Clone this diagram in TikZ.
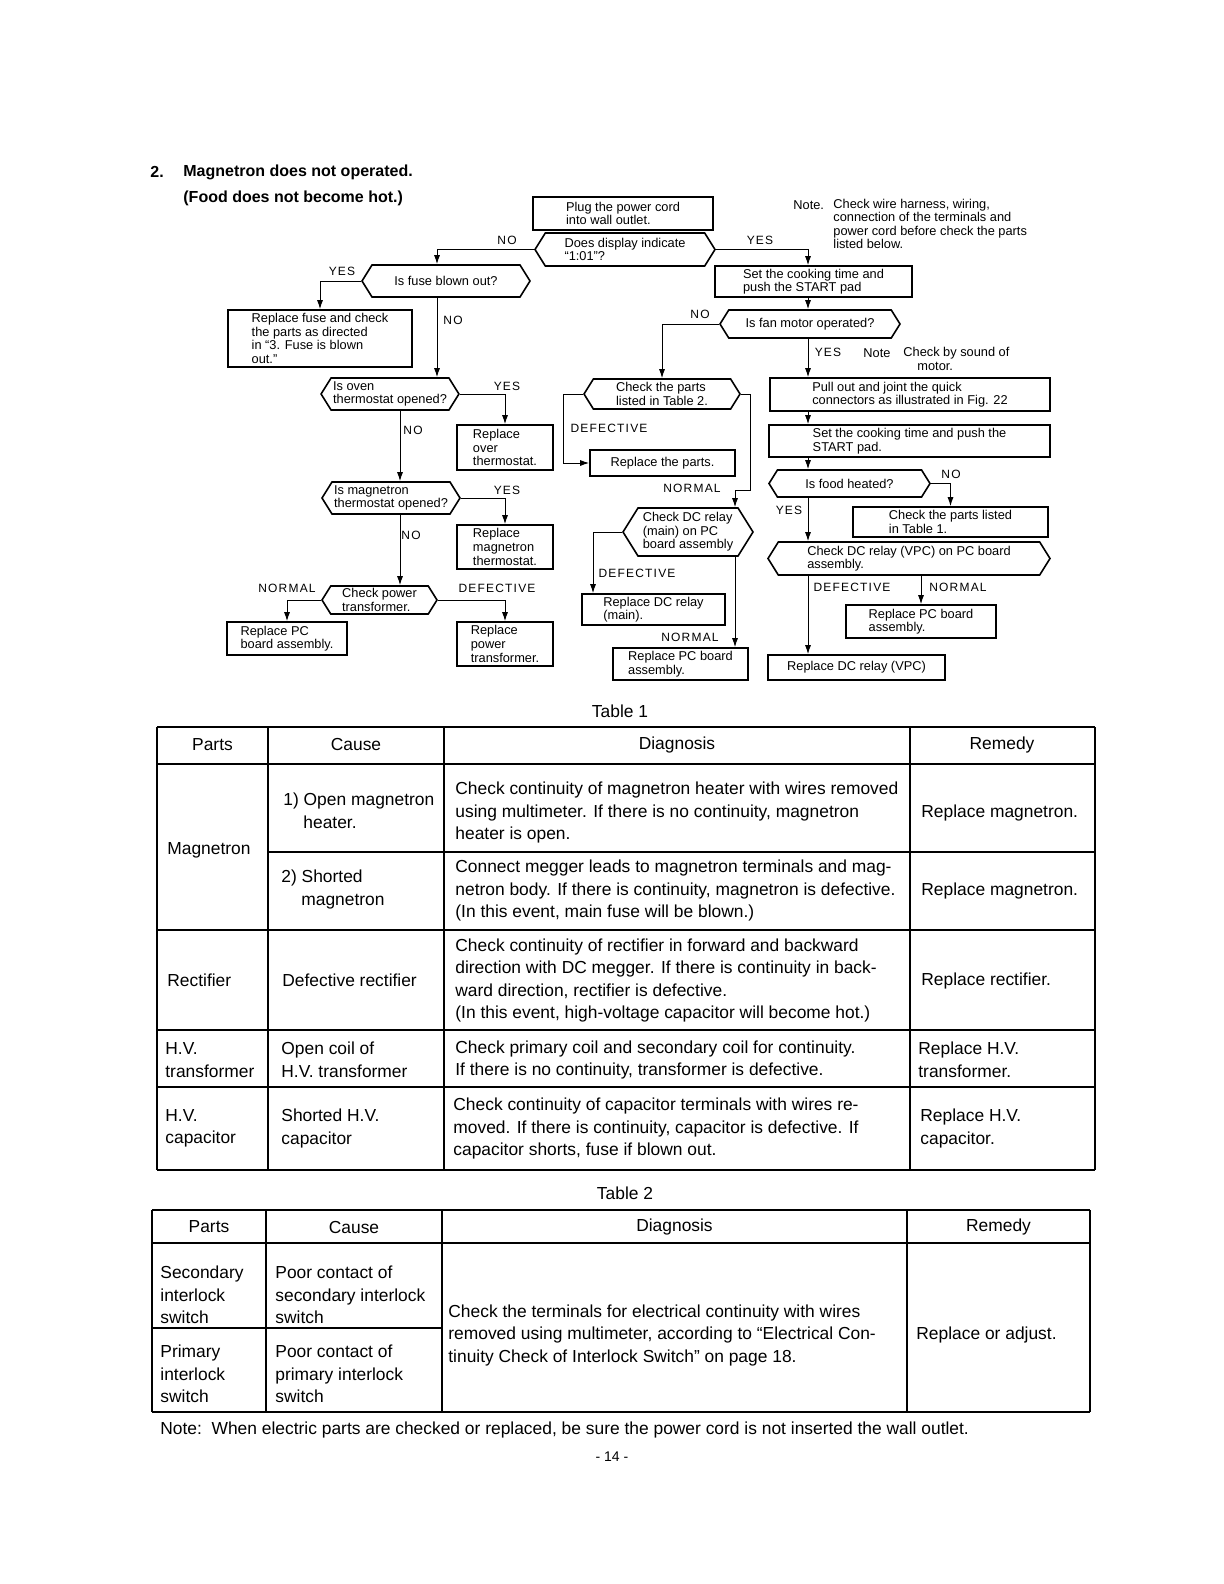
\documentclass[tikz,border=0pt]{standalone}
\usepackage{fontspec}
\setmainfont{Liberation Sans}
\newfontfamily\spacedfont[LetterSpace=10]{Liberation Sans}
\usetikzlibrary{shapes.symbols,arrows.meta}
\newcommand\flowfont{\fontsize{6.4}{6.8}\selectfont}
\newcommand\tabfont{\fontsize{8.7}{11.25}\selectfont}
\newcommand\markfont{\spacedfont\fontsize{6}{6}\selectfont}
\newcommand\headfont{\fontsize{8}{10}\selectfont\bfseries}
\tikzset{
    flow-box/.style = {draw, line width=0.8pt, rectangle, font=\flowfont, align=left, inner sep=1pt},
    flow-hex/.style = {draw, line width=0.8pt, signal, signal to=west and east, signal pointer angle=116, font=\flowfont, align=left, inner sep=1pt},
    flow-line/.style = {line width=0.5pt, -{Latex[length=4.5pt,width=3pt]}},
    flow-mark/.style = {font=\markfont, inner sep=0pt},
    tab-rule/.style = {line width=0.9pt},
    tab-sep/.style = {line width=0.6pt},
    tab-text/.style = {font=\tabfont, align=left, anchor=west, inner sep=0pt},
}

\begin{document}
\begin{tikzpicture}[x=0.5pt, y=-0.5pt]
\useasboundingbox (0,0) rectangle (1224,1584);

% heading
\node[anchor=west, font=\headfont, inner sep=0pt] (num) at (150,172) {2.};
\node[anchor=west, font=\headfont, inner sep=0pt] (head) at (183,172) {Magnetron does not operated.};
\node[anchor=west, font=\headfont, inner sep=0pt] (subhead) at (183,198) {(Food does not become hot.)};

% columns of the connectors
\coordinate (cF) at (437,0);
\coordinate (cM) at (400,0);
\coordinate (cR) at (808,0);
\coordinate (cD) at (735,0);
\coordinate (cL) at (593,0);
\coordinate (kR) at (750,490);

% flow chart
\node[flow-box, minimum width=90pt, minimum height=16.5pt] (plug) at (623,213.5) {Plug the power cord\\into wall outlet.};
\node[flow-hex, minimum width=90pt, minimum height=16.5pt] (disp) at (625,249.5) {Does display indicate\\``1:01''?};
\node[flow-hex, minimum width=84pt, minimum height=16pt] (fuse) at (446,281) {Is fuse blown out?};
\node[flow-box, minimum width=92pt, minimum height=28.5pt] (replfuse) at (320,338.5) {Replace fuse and check\\the parts as directed\\in ``3. Fuse is blown\\out.''};
\node[flow-box, minimum width=98.5pt, minimum height=15.5pt] (setA) at (813.5,281.5) {Set the cooking time and\\push the START pad};
\node[flow-hex, minimum width=90pt, minimum height=14pt] (fan) at (810,324) {Is fan motor operated?};

\node[flow-hex, minimum width=67pt, minimum height=16pt] (oven) at (390,394) {Is oven\\thermostat opened?};
\node[flow-box, minimum width=48pt, minimum height=22.5pt] (replover) at (505,447.5) {Replace\\over\\thermostat.};
\node[flow-hex, minimum width=69pt, minimum height=16pt] (mag) at (391,498) {Is magnetron\\thermostat opened?};
\node[flow-box, minimum width=48pt, minimum height=22pt] (replmag) at (505,547) {Replace\\magnetron\\thermostat.};
\node[flow-hex, minimum width=57.5pt, minimum height=14pt] (power) at (379.5,600) {Check power\\transformer.};
\node[flow-box, minimum width=60pt, minimum height=16.5pt] (replpc1) at (287,638.5) {Replace PC\\board assembly.};
\node[flow-box, minimum width=48pt, minimum height=22pt] (replpt) at (505,644) {Replace\\power\\transformer.};

\node[flow-hex, minimum width=78pt, minimum height=15pt] (tab2) at (662,394) {Check the parts\\listed in Table 2.};
\node[flow-box, minimum width=72.5pt, minimum height=13pt] (replparts) at (662.5,463) {Replace the parts.};
\node[flow-hex, minimum width=65pt, minimum height=24pt] (dcmain) at (688,532) {Check DC relay\\(main) on PC\\board assembly};
\node[flow-box, minimum width=71.5pt, minimum height=15.5pt] (repldcmain) at (653.5,609.5) {Replace DC relay\\(main).};
\node[flow-box, minimum width=67.5pt, minimum height=16pt] (replpc2) at (680.5,664) {Replace PC board\\assembly.};

\node[flow-box, minimum width=140pt, minimum height=16.5pt] (pull) at (910,394.5) {Pull out and joint the quick\\connectors as illustrated in Fig. 22};
\node[flow-box, minimum width=140.5pt, minimum height=16pt] (setB) at (909.5,441) {Set the cooking time and push the\\START pad.};
\node[flow-hex, minimum width=80.5pt, minimum height=13.5pt] (food) at (849.5,483.5) {Is food heated?};
\node[flow-box, minimum width=97.5pt, minimum height=15pt] (tab1) at (950.5,522) {Check the parts listed\\in Table 1.};
\node[flow-hex, minimum width=141pt, minimum height=16.5pt] (vpc) at (909,558.5) {Check DC relay (VPC) on PC board\\assembly.};
\node[flow-box, minimum width=75pt, minimum height=16.5pt] (replpc3) at (921,621.5) {Replace PC board\\assembly.};
\node[flow-box, minimum width=88.5pt, minimum height=12.5pt] (repldcvpc) at (856.5,667.5) {Replace DC relay (VPC)};

% notes
\node[anchor=west, font=\flowfont, inner sep=0pt] (notea) at (793,205) {Note.};
\node[anchor=west, font=\flowfont, align=left, inner sep=0pt] (noteatext) at (833,224) {Check wire harness, wiring,\\connection of the terminals and\\power cord before check the parts\\listed below.};
\node[anchor=west, font=\flowfont, inner sep=0pt] (noteb) at (863,353) {Note};
\node[anchor=west, font=\flowfont, align=left, inner sep=0pt] (notebtext) at (903,359) {Check by sound of\\\hspace*{7pt}motor.};

% connectors
\draw[flow-line] (disp.west) -| (fuse.north -| cF);
\draw[flow-line] (disp.east) -| (setA.north -| cR);
\draw[flow-line] (setA.south -| cR) -- (fan.north -| cR);
\draw[flow-line] (fan.west) -| (tab2.north);
\draw[flow-line] (fan.south -| cR) -- (pull.north -| cR);
\draw[flow-line] (pull.south -| cR) -- (setB.north -| cR);
\draw[flow-line] (setB.south -| cR) -- (food.north -| cR);
\draw[flow-line] (food.east) -| (tab1.north);
\draw[flow-line] (food.south -| cR) -- (vpc.north -| cR);
\draw[flow-line] (vpc.south -| cR) -- (repldcvpc.north -| cR);
\draw[flow-line] (vpc.south -| replpc3.north) -- (replpc3.north);

\draw[flow-line] (fuse.west) -| (replfuse.north);
\draw[flow-line] (fuse.south -| cF) -- (oven.north -| cF);
\draw[flow-line] (oven.east) -| (replover.north);
\draw[flow-line] (oven.south -| cM) -- (mag.north -| cM);
\draw[flow-line] (mag.east) -| (replmag.north);
\draw[flow-line] (mag.south -| cM) -- (power.north -| cM);
\draw[flow-line] (power.west) -| (replpc1.north);
\draw[flow-line] (power.east) -| (replpt.north);

\draw[flow-line] (tab2.west) -- ++(-20,0) |- (replparts.west);
\draw[flow-line] (tab2.east) -| (kR) -| (dcmain.north -| cD);
\draw[flow-line] (dcmain.west) -| (repldcmain.north -| cL);
\draw[flow-line] (dcmain.south -| cD) -- (replpc2.north -| cD);

% branch marks
\node[flow-mark] (m1) at (507,240) {NO};
\node[flow-mark] (m2) at (760,240) {YES};
\node[flow-mark] (m3) at (342,271) {YES};
\node[flow-mark] (m4) at (453,320) {NO};
\node[flow-mark] (m5) at (700,314) {NO};
\node[flow-mark] (m6) at (828,352) {YES};
\node[flow-mark] (m7) at (507,386) {YES};
\node[flow-mark] (m8) at (413,430) {NO};
\node[flow-mark] (m9) at (507,490) {YES};
\node[flow-mark] (m10) at (411,535) {NO};
\node[flow-mark] (m11) at (287,588) {NORMAL};
\node[flow-mark] (m12) at (497,588) {DEFECTIVE};
\node[flow-mark] (m13) at (609,428) {DEFECTIVE};
\node[flow-mark] (m14) at (692,488) {NORMAL};
\node[flow-mark] (m15) at (637,573) {DEFECTIVE};
\node[flow-mark] (m16) at (690,637) {NORMAL};
\node[flow-mark] (m17) at (951,474) {NO};
\node[flow-mark] (m18) at (789,510) {YES};
\node[flow-mark] (m19) at (852,587) {DEFECTIVE};
\node[flow-mark] (m20) at (958,587) {NORMAL};

% table 1
\node[font=\tabfont] (cap1) at (620,711) {Table 1};
\draw[tab-rule] (157,727) -- (1095,727) (157,764) -- (1095,764) (268,852) -- (1095,852)
    (157,930) -- (1095,930) (157,1030) -- (1095,1030) (157,1087) -- (1095,1087) (157,1170) -- (1095,1170);
\foreach \x in {157,268,444,910,1095}
    \draw[tab-sep] (\x,727) -- (\x,1170);
\node[font=\tabfont] (h11) at (212.5,745) {Parts};
\node[font=\tabfont] (h12) at (356,745) {Cause};
\node[font=\tabfont] (h13) at (677,745) {Diagnosis};
\node[font=\tabfont] (h14) at (1002,745) {Remedy};
\node[tab-text] (p1) at (167,850) {Magnetron};
\node[tab-text] (c1) at (283,811) {1) Open magnetron\\\hspace*{10pt}heater.};
\node[tab-text] (d1) at (455,812.5) {Check continuity of magnetron heater with wires removed\\using multimeter. If there is no continuity, magnetron\\heater is open.};
\node[tab-text] (r1) at (921,813) {Replace magnetron.};
\node[tab-text] (c2) at (281,889.5) {2) Shorted\\\hspace*{10pt}magnetron};
\node[tab-text] (d2) at (455,890.5) {Connect megger leads to magnetron terminals and mag-\\netron body. If there is continuity, magnetron is defective.\\(In this event, main fuse will be blown.)};
\node[tab-text] (r2) at (921,891) {Replace magnetron.};
\node[tab-text] (p3) at (167,980) {Rectifier};
\node[tab-text] (c3) at (282,980) {Defective rectifier};
\node[tab-text] (d3) at (455,980.5) {Check continuity of rectifier in forward and backward\\direction with DC megger. If there is continuity in back-\\ward direction, rectifier is defective.\\(In this event, high-voltage capacitor will become hot.)};
\node[tab-text] (r3) at (921,981) {Replace rectifier.};
\node[tab-text] (p4) at (165,1060) {H.V.\\transformer};
\node[tab-text] (c4) at (281,1060) {Open coil of\\H.V. transformer};
\node[tab-text] (d4) at (455,1060) {Check primary coil and secondary coil for continuity.\\If there is no continuity, transformer is defective.};
\node[tab-text] (r4) at (918,1060) {Replace H.V.\\transformer.};
\node[tab-text] (p5) at (165,1128.5) {H.V.\\capacitor};
\node[tab-text] (c5) at (281,1128.5) {Shorted H.V.\\capacitor};
\node[tab-text] (d5) at (453,1128.5) {Check continuity of capacitor terminals with wires re-\\moved. If there is continuity, capacitor is defective. If\\capacitor shorts, fuse if blown out.};
\node[tab-text] (r5) at (920,1128.5) {Replace H.V.\\capacitor.};

% table 2
\node[font=\tabfont] (cap2) at (625,1193) {Table 2};
\draw[tab-rule] (152,1210) -- (1090,1210) (152,1243) -- (1090,1243) (152,1328) -- (442,1328) (152,1412) -- (1090,1412);
\foreach \x in {152,266,442,907,1090}
    \draw[tab-sep] (\x,1210) -- (\x,1412);
\node[font=\tabfont] (h21) at (209,1227) {Parts};
\node[font=\tabfont] (h22) at (354,1227) {Cause};
\node[font=\tabfont] (h23) at (674.5,1227) {Diagnosis};
\node[font=\tabfont] (h24) at (998.5,1227) {Remedy};
\node[tab-text] (p6) at (160,1295) {Secondary\\interlock\\switch};
\node[tab-text] (c6) at (275,1295) {Poor contact of\\secondary interlock\\switch};
\node[tab-text] (p7) at (160,1374) {Primary\\interlock\\switch};
\node[tab-text] (c7) at (275,1374) {Poor contact of\\primary interlock\\switch};
\node[tab-text] (d6) at (448,1335) {Check the terminals for electrical continuity with wires\\removed using multimeter, according to ``Electrical Con-\\tinuity Check of Interlock Switch'' on page 18.};
\node[tab-text] (r6) at (916,1335) {Replace or adjust.};

\node[tab-text] (foot) at (160,1430) {Note:\ \ When electric parts are checked or replaced, be sure the power cord is not inserted the wall outlet.};
\node[font=\fontsize{7}{8}\selectfont] (pageno) at (612,1457) {- 14 -};
\end{tikzpicture}
\end{document}
